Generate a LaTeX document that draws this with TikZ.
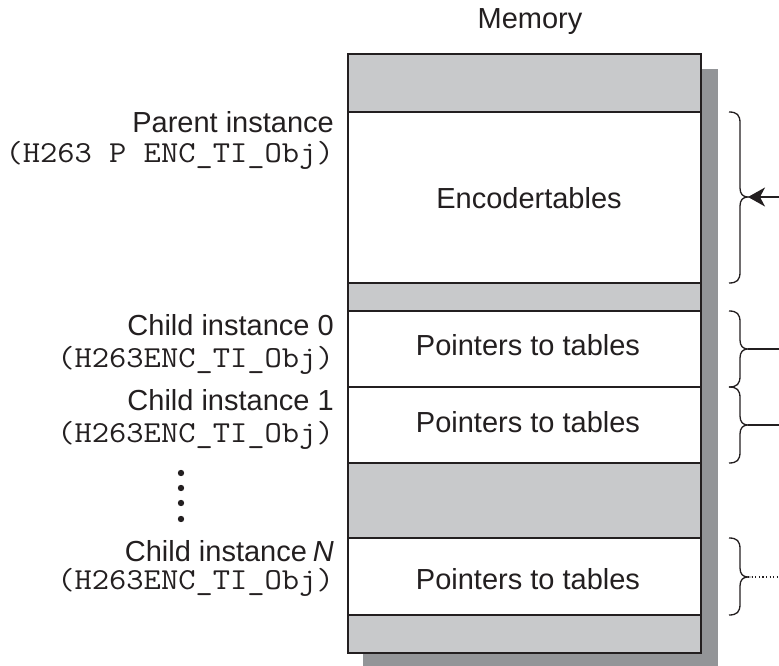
\documentclass[tikz,border=0pt]{standalone}
\usepackage{fontspec}
\setmainfont{Liberation Sans}
\usetikzlibrary{arrows.meta}
\definecolor{ink}{HTML}{231F20}
\definecolor{slot}{RGB}{200,201,203}
\definecolor{drop}{RGB}{147,149,152}

% type names in a typewriter face, widened a little
\newcommand\codetext[1]{\scalebox{1.1}[1]{#1}}

% curly brace on the right of the memory column: name, top, tip, bottom
\newcommand\memBrace[4]{%
  \draw[bracepath] (729,#2) .. controls (737,#2) and (740,{#2+3}) .. (740,{#2+11})
    -- (740,{#3-9}) .. controls (740,{#3-3}) and (743,#3) .. (748,#3)
    .. controls (743,#3) and (740,{#3+3}) .. (740,{#3+9})
    -- (740,{#4-11}) .. controls (740,{#4-3}) and (737,#4) .. (729,#4);
  \coordinate (#1) at (748,#3);}

\begin{document}
\begin{tikzpicture}[x=1pt,y=-1pt,
  sans/.style={font=\fontsize{29}{34}\selectfont, inner sep=0pt, text=ink},
  code/.style={font=\ttfamily\fontsize{30.5}{34}\selectfont, inner sep=0pt, text=ink},
  memrow/.style={draw=ink, line width=1.6pt, minimum width=353pt, inner sep=0pt,
    outer sep=0pt, anchor=north west},
  greyrow/.style={memrow, fill=slot},
  whiterow/.style={memrow, fill=white},
  bracepath/.style={draw=ink, line width=1.3pt},
  link/.style={draw=ink, line width=1.3pt}]

\useasboundingbox (0,0) rectangle (779,666);

% title
\node[sans, anchor=base] (title) at (530,29) {Memory};

% drop shadow behind the memory column
\fill[drop] (363,69) rectangle (718,666);

% memory column, top to bottom
\node[greyrow,  minimum height=58pt] (g0)  at (348,54)  {};
\node[whiterow, minimum height=171pt] (enc) at (348,112) {};
\node[greyrow,  minimum height=28pt] (g1)  at (348,283) {};
\node[whiterow, minimum height=76pt] (c0)  at (348,311) {};
\node[whiterow, minimum height=76pt] (c1)  at (348,387) {};
\node[greyrow,  minimum height=75pt] (g2)  at (348,463) {};
\node[whiterow, minimum height=77pt] (cN)  at (348,538) {};
\node[greyrow,  minimum height=38pt] (g3)  at (348,615) {};

% contents of the blocks
\node[sans, anchor=base] (enctxt) at (529,208) {Encodertables};
\node[sans, anchor=base] (c0txt)  at (528,355) {Pointers to tables};
\node[sans, anchor=base] (c1txt)  at (528,432) {Pointers to tables};
\node[sans, anchor=base] (cNtxt)  at (528,589) {Pointers to tables};

% instance labels
\node[sans, anchor=base east] (ptitle) at (334,133) {Parent instance};
\node[code, anchor=base east] (ptype)  at (334,162) {\codetext{(H263 P ENC\_TI\_Obj)}};
\node[sans, anchor=base east] (c0title) at (334,335) {Child instance 0};
\node[code, anchor=base east] (c0type)  at (334,367) {\codetext{(H263ENC\_TI\_Obj)}};
\node[sans, anchor=base east] (c1title) at (334,410) {Child instance 1};
\node[code, anchor=base east] (c1type)  at (334,442) {\codetext{(H263ENC\_TI\_Obj)}};
\node[sans, anchor=base east] (cNtitle) at (334,561) {Child instance\kern0.2em\textit{N}};
\node[code, anchor=base east] (cNtype)  at (334,589) {\codetext{(H263ENC\_TI\_Obj)}};

% vertical ellipsis between child instances
\foreach \yy in {473,488,503,519}
  \fill[ink] (181,\yy) circle[radius=3.2pt];

% braces grouping the blocks
\memBrace{tipenc}{112}{197}{283}
\memBrace{tipc0}{311}{349}{387}
\memBrace{tipc1}{387}{425}{463}
\memBrace{tipcN}{538}{577}{615}

% free ends at the right margin
\coordinate (outenc) at (779,197);
\coordinate (outc0)  at (779,349);
\coordinate (outc1)  at (779,425);
\coordinate (outcN)  at (779,577);

% connectors
\draw[link, -{Stealth[length=17pt,width=19pt,inset=5pt]}] (outenc) -- (tipenc);
\draw[link] (tipc0) -- (outc0);
\draw[link] (tipc1) -- (outc1);
\draw[ink, line width=1.2pt, dash pattern=on 1.2pt off 2.4pt] (tipcN) -- (outcN);
\end{tikzpicture}
\end{document}
